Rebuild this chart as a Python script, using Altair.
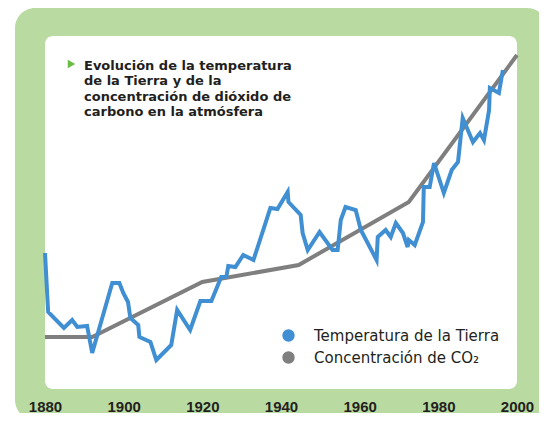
import altair as alt
import pandas as pd

# --- data (arbitrary index units) ---
temp_years = [1880, 1880.8, 1884.8, 1886.9, 1888.2, 1890.7, 1892.0, 1897.1, 1898.9, 1899.9,
              1901.1, 1901.7, 1903.7, 1904.0, 1906.8, 1908.3, 1912.1, 1913.6, 1916.9, 1919.5,
              1922.3, 1924.8, 1926.1, 1926.6, 1928.4, 1930.4, 1933.0, 1937.3, 1939.1, 1941.7,
              1941.9, 1945.0, 1945.5, 1946.8, 1949.8, 1953.1, 1954.4, 1955.2, 1956.4, 1959.0,
              1960.3, 1964.3, 1964.6, 1966.6, 1967.9, 1969.2, 1971.0, 1972.2, 1972.5, 1974.0,
              1976.1, 1976.3, 1977.8, 1978.9, 1981.4, 1983.4, 1985.0, 1986.2, 1988.8, 1990.6,
              1991.6, 1992.9, 1993.1, 1995.4, 1996.4]
temp_vals = [136, 77, 61, 69, 62, 63, 36, 106, 106, 96,
             87, 71, 64, 52, 47, 29, 44, 79, 59, 88,
             88, 112, 112, 123, 122, 134, 129, 181, 180, 197,
             187, 174, 156, 139, 157, 139, 139, 169, 182, 179,
             159, 129, 152, 159, 152, 166, 156, 142, 149, 144,
             167, 202, 202, 226, 196, 219, 227, 271, 247, 256,
             249, 279, 301, 296, 319]

co2_years = [1880, 1892, 1920, 1944.5, 1972.5, 2000]
co2_vals = [52, 52, 107, 124, 187, 334]

series_names = ["Temperatura de la Tierra", "Concentración de CO₂"]
series_colors = ["#3f8fd2", "#807f80"]

title_lines = ["Evolución de la temperatura", "de la Tierra y de la",
               "concentración de dióxido de", "carbono en la atmósfera"]

tick_years = [1880, 1900, 1920, 1940, 1960, 1980, 2000]

GREEN = "#b9dba1"
TRI_GREEN = "#6cbb45"
TEXT = "#231f20"

W, H = 472, 353

temp_df = pd.DataFrame({"year": temp_years, "value": temp_vals})
co2_df = pd.DataFrame({"year": co2_years, "value": co2_vals})
legend_df = pd.DataFrame({"serie": series_names})
one = alt.Data(values=[{}])

x_axis = alt.Axis(values=tick_years, format="d", title=None, domain=False, ticks=False,
                  tickSize=0, grid=False, labelFont="Liberation Sans", labelFontWeight="bold",
                  labelFontSize=15, labelColor=TEXT, labelPadding=10, labelFlush=False,
                  zindex=2)
x_enc = alt.X("year:Q", scale=alt.Scale(domain=[1880, 2000], nice=False, zero=False), axis=x_axis)
y_enc = alt.Y("value:Q", scale=alt.Scale(domain=[0, 353], nice=False), axis=None)

green_bg = alt.Chart(one).mark_rect(color=GREEN, cornerRadius=20).encode(
    x=alt.value(-30), x2=alt.value(502), y=alt.value(-28), y2=alt.value(384))
white_bg = alt.Chart(one).mark_rect(color="white", cornerRadius=8).encode(
    x=alt.value(0), x2=alt.value(W), y=alt.value(0), y2=alt.value(H))

co2_line = alt.Chart(co2_df).mark_line(color=series_colors[1], strokeWidth=4).encode(
    x=x_enc, y=y_enc)
temp_line = alt.Chart(temp_df).mark_line(color=series_colors[0], strokeWidth=4,
                                          strokeJoin="miter").encode(x=x_enc, y=y_enc)

triangle = alt.Chart(one).mark_point(shape="triangle-right", filled=True, size=75,
                                     color=TRI_GREEN, opacity=1).encode(
    x=alt.value(26.5), y=alt.value(28))
title = alt.Chart(one).mark_text(align="left", baseline="alphabetic", font="DejaVu Sans",
                                 fontWeight="bold", fontSize=13, lineHeight=15.3,
                                 color=TEXT).encode(
    x=alt.value(39), y=alt.value(34), text=alt.value(title_lines))

legend_layer = alt.Chart(legend_df).mark_circle(opacity=1).encode(
    fill=alt.Fill("serie:N", scale=alt.Scale(domain=series_names, range=series_colors),
                  legend=alt.Legend(title=None, orient="none", legendX=236, legendY=292,
                                    symbolType="circle", symbolSize=154, symbolStrokeWidth=0,
                                    labelFont="DejaVu Sans", labelFontSize=15,
                                    labelColor=TEXT, labelOffset=18, rowPadding=6,
                                    padding=0, labelLimit=400))
).transform_filter("false")

chart = alt.layer(green_bg, white_bg, co2_line, temp_line, triangle, title, legend_layer).properties(
    width=W, height=H,
    padding={"left": 37, "top": 28, "right": 22, "bottom": 24},
    autosize=alt.AutoSizeParams(type="none"),
    background="white",
).configure_view(stroke=None)

chart.save("out.html", embed_options={"renderer": "svg", "actions": False})
